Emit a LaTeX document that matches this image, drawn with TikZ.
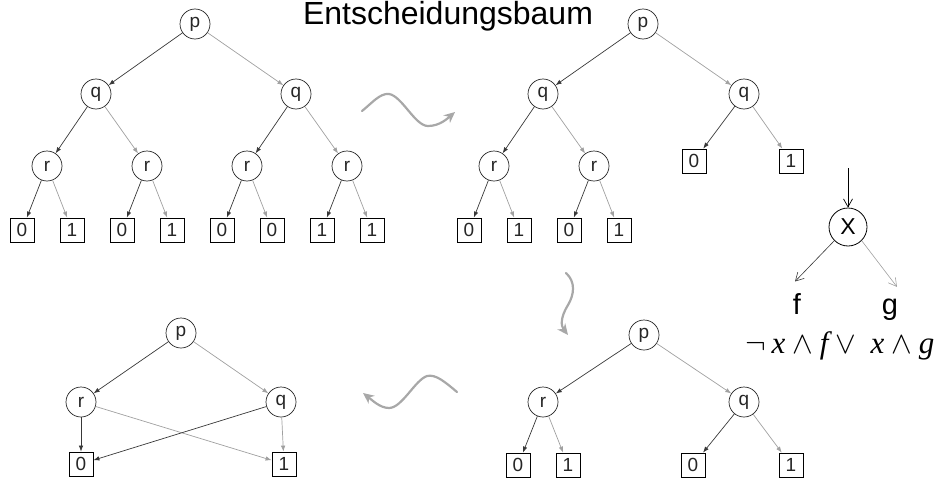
\documentclass[tikz,border=0pt]{standalone}
\usepackage{fix-cm}
\usepackage{fontspec}
\setmainfont{Liberation Serif}
\setsansfont{Liberation Sans}
\usetikzlibrary{arrows.meta}
\definecolor{LowEdge}{HTML}{383838}
\definecolor{HighEdge}{HTML}{A0A0A0}
\definecolor{StepArrow}{HTML}{A8A8A8}

\begin{document}
\begin{tikzpicture}[x=1pt, y=-1pt,
    var/.style={circle, draw=black!85, line width=0.7pt, minimum size=30pt, inner sep=0pt,
                font=\sffamily\fontsize{19}{19}\selectfont, text=black!85},
    leaf/.style={rectangle, draw=black, line width=0.8pt, minimum width=24pt, minimum height=24pt,
                 inner sep=0pt, font=\sffamily\fontsize{19}{19}\selectfont, text=black!85},
    lo/.style={draw=LowEdge, line width=0.7pt, -{Latex[length=6pt,width=4.5pt]}},
    hi/.style={draw=HighEdge, line width=0.7pt, -{Latex[length=6pt,width=4.5pt]}},
    trans/.style={draw=StepArrow, line width=2.2pt, line cap=round, -{Stealth[length=11pt,width=10pt]}}]
  \useasboundingbox (0,0) rectangle (942,479);

  \node[font=\sffamily\fontsize{32}{32}\selectfont] (title) at (448,16) {Entscheidungsbaum};

  % full decision tree
  \node[var] (a-p) at (195,24) {p};
  \node[var] (a-q1) at (96,94) {q};
  \node[var] (a-q2) at (296,94) {q};
  \foreach \i in {1,...,4}
    \node[var] (a-r\i) at ({47+100*(\i-1)},166) {r};
  \foreach \v [count=\i] in {0,1,0,1,0,0,1,1}
    \node[leaf] (a-l\i) at ({22+50*(\i-1)},230) {\v};
  \draw[lo] (a-p) -- (a-q1);
  \draw[hi] (a-p) -- (a-q2);
  \draw[lo] (a-q1) -- (a-r1);
  \draw[hi] (a-q1) -- (a-r2);
  \draw[lo] (a-q2) -- (a-r3);
  \draw[hi] (a-q2) -- (a-r4);
  \foreach \i in {1,...,4} {
    \pgfmathtruncatemacro\lft{2*\i-1}
    \pgfmathtruncatemacro\rgt{2*\i}
    \draw[lo] (a-r\i) -- (a-l\lft);
    \draw[hi] (a-r\i) -- (a-l\rgt);
  }

  % right q subtree collapsed
  \node[var] (b-p) at (643,24) {p};
  \node[var] (b-q1) at (543,94) {q};
  \node[var] (b-q2) at (744,94) {q};
  \node[var] (b-r1) at (494,166) {r};
  \node[var] (b-r2) at (594,166) {r};
  \foreach \v [count=\i] in {0,1,0,1}
    \node[leaf] (b-l\i) at ({469+50*(\i-1)},230) {\v};
  \node[leaf] (b-l5) at (694,161) {0};
  \node[leaf] (b-l6) at (791,161) {1};
  \draw[lo] (b-p) -- (b-q1);
  \draw[hi] (b-p) -- (b-q2);
  \draw[lo] (b-q1) -- (b-r1);
  \draw[hi] (b-q1) -- (b-r2);
  \draw[lo] (b-r1) -- (b-l1);
  \draw[hi] (b-r1) -- (b-l2);
  \draw[lo] (b-r2) -- (b-l3);
  \draw[hi] (b-r2) -- (b-l4);
  \draw[lo] (b-q2) -- (b-l5);
  \draw[hi] (b-q2) -- (b-l6);

  % both q subtrees collapsed
  \node[var] (c-p) at (644,335) {p};
  \node[var] (c-r) at (543,402) {r};
  \node[var] (c-q) at (744,402) {q};
  \node[leaf] (c-l1) at (518,465) {0};
  \node[leaf] (c-l2) at (568,465) {1};
  \node[leaf] (c-l3) at (693,465) {0};
  \node[leaf] (c-l4) at (791,465) {1};
  \draw[lo] (c-p) -- (c-r);
  \draw[hi] (c-p) -- (c-q);
  \draw[lo] (c-r) -- (c-l1);
  \draw[hi] (c-r) -- (c-l2);
  \draw[lo] (c-q) -- (c-l3);
  \draw[hi] (c-q) -- (c-l4);

  % shared leaves
  \node[var] (d-p) at (181,333) {p};
  \node[var] (d-r) at (81,402) {r};
  \node[var] (d-q) at (281,402) {q};
  \node[leaf] (d-l0) at (81,464) {0};
  \node[leaf] (d-l1) at (284,464) {1};
  \draw[lo] (d-p) -- (d-r);
  \draw[hi] (d-p) -- (d-q);
  \draw[lo] (d-r) -- (d-l0);
  \draw[hi] (d-r) -- (d-l1);
  \draw[lo] (d-q) -- (d-l0);
  \draw[hi] (d-q) -- (d-l1);

  % steps between the trees
  \draw[trans] (362,111) .. controls (372,103) and (380,93) .. (389,94)
    .. controls (402,96) and (415,126) .. (428,126)
    .. controls (440,126) and (448,118) .. (455,112);
  \draw[trans] (566,273) .. controls (576,282) and (574,295) .. (568,305)
    .. controls (560,318) and (561,326) .. (568,335);
  \draw[trans] (457,392) .. controls (445,382) and (436,374) .. (427,376)
    .. controls (415,380) and (402,408) .. (389,408)
    .. controls (380,408) and (372,400) .. (363,393);

  % Shannon expansion
  \coordinate (x-in) at (848,168);
  \node[circle, draw=black, line width=0.8pt, minimum size=38pt, inner sep=0pt,
        font=\sffamily\fontsize{23}{23}\selectfont] (x) at (848,227) {X};
  \node[anchor=base, font=\sffamily\fontsize{29}{29}\selectfont] (f) at (797,314) {f};
  \node[anchor=base, font=\sffamily\fontsize{29}{29}\selectfont] (g) at (890,314) {g};
  \draw[black, line width=0.7pt, -{Straight Barb[length=8pt,width=9pt]}] (x-in) -- (x);
  \draw[LowEdge, line width=0.6pt, -{Straight Barb[length=8pt,width=9pt]}]
    (x.south west) -- ([xshift=-2pt,yshift=8pt]f.north);
  \draw[HighEdge, line width=0.6pt, -{Straight Barb[length=8pt,width=9pt]}]
    (x.south east) -- ([xshift=7pt,yshift=8pt]g.north);
  \node[font=\fontsize{31}{31}\selectfont] (shannon) at (840,346)
    {$\neg\,\mathit{x}\wedge\mathit{f}\vee\ \mathit{x}\wedge\mathit{g}$};
\end{tikzpicture}
\end{document}
